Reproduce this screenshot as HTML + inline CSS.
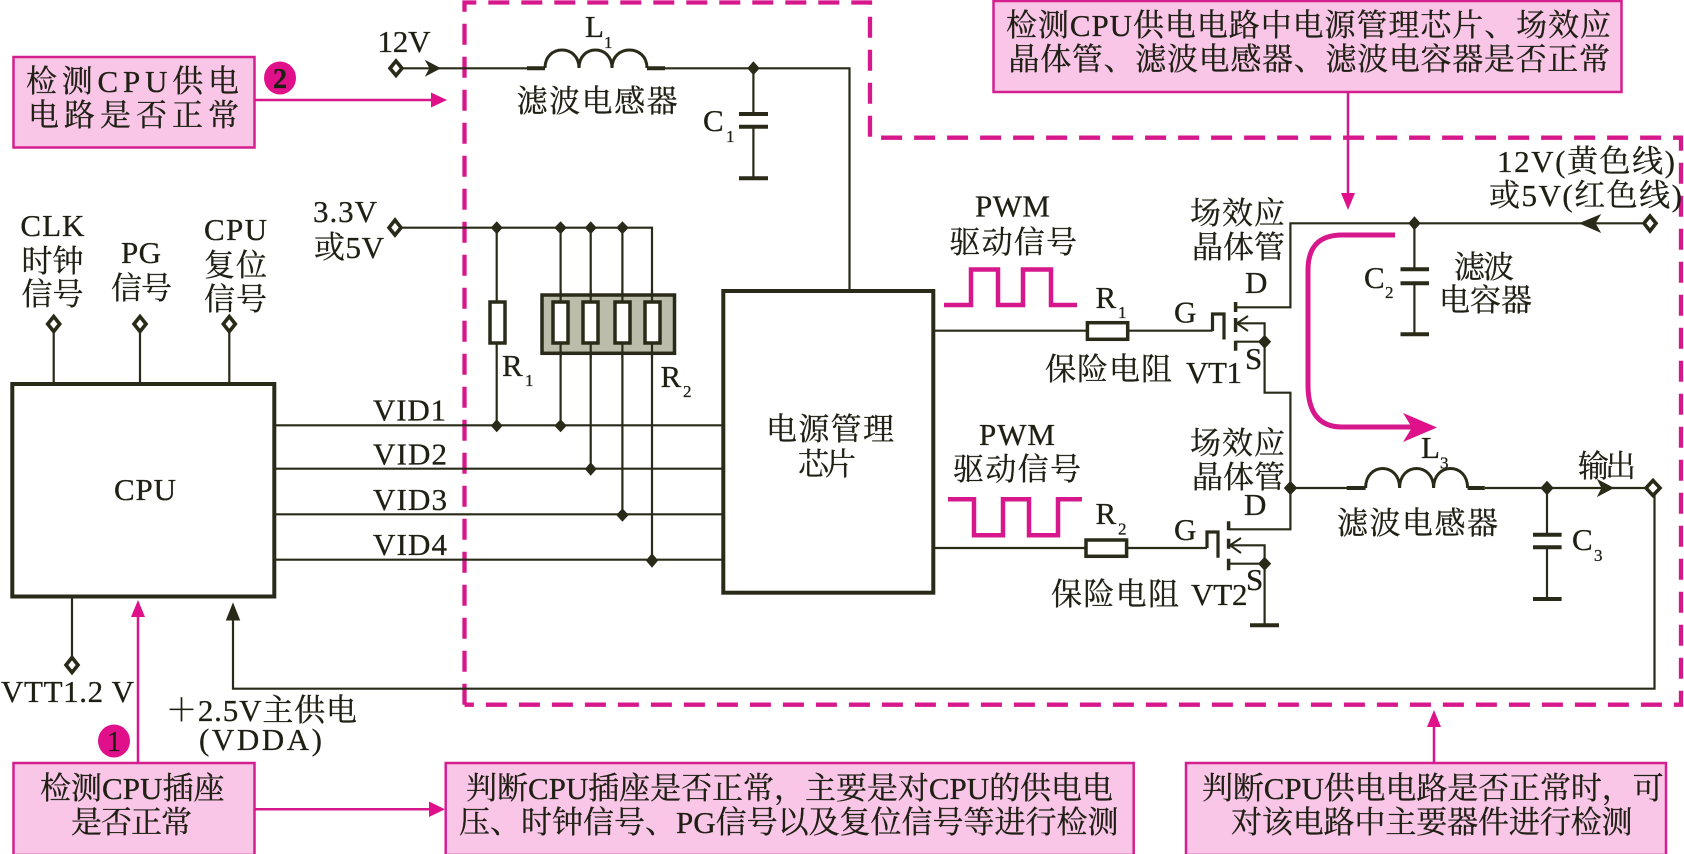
<!DOCTYPE html>
<html lang="zh">
<head>
<meta charset="utf-8">
<title>CPU供电电路检测</title>
<style>
html,body{margin:0;padding:0;background:#fff;width:1684px;height:854px;overflow:hidden}
svg{display:block}
text{font-family:"Liberation Serif","Noto Serif CJK SC",serif;font-size:31px;fill:#1f1f14;stroke:#1f1f14;stroke-width:.3px}
.sub{font-size:17px}
.w{fill:none;stroke:#2a2a18;stroke-width:2.2}
.t{fill:none;stroke:#2a2a18;stroke-width:4}
.b{fill:#f9c6e7;stroke:#d4208f;stroke-width:2.5}
.p{fill:none;stroke:#d6188c;stroke-width:2.5}
.wave{fill:none;stroke:#d6188c;stroke-width:4.5}
.ph{fill:#e0108a}
.k{fill:#2a2a18;stroke:#2a2a18;stroke-width:1}
.o{fill:#fff;stroke:#2a2a18;stroke-width:3.6}
.r{fill:#fff;stroke:#2a2a18;stroke-width:3.5}
</style>
</head>
<body>
<svg xmlns="http://www.w3.org/2000/svg" width="1684" height="854" viewBox="0 0 1684 854">
<rect width="1684" height="854" fill="#fff"/>

<!-- dashed region -->
<path d="M464.5 704.7V2.5H870V137.7H1681V704.7H464.5" fill="none" stroke="#d6188c" stroke-width="4.3" stroke-dasharray="21 12"/>

<!-- pink boxes -->
<rect class="b" x="13.5" y="57" width="241" height="90.5"/>
<rect class="b" x="993.5" y="1" width="628" height="91"/>
<rect class="b" x="13.5" y="763" width="241" height="92"/>
<rect class="b" x="445.7" y="763" width="688" height="92"/>
<rect class="b" x="1186" y="763" width="480" height="92"/>

<!-- pink arrows -->
<path class="p" d="M254 100H435M138 763V612M254 809.3H432M1348 92V198M1434 763V722"/>
<polygon class="ph" points="447,100 431,92.5 431,107.5"/>
<polygon class="ph" points="138,600 131,617 145,617"/>
<polygon class="ph" points="445,809.3 429,801.5 429,817"/>
<polygon class="ph" points="1348,210 1341,193 1355,193"/>
<polygon class="ph" points="1434,710 1427,727 1441,727"/>
<ellipse class="ph" cx="280" cy="78" rx="16" ry="16.5"/>
<ellipse class="ph" cx="114" cy="741" rx="16" ry="16.5"/>
<path d="M1395 235H1342Q1308 235 1308 270V385Q1308 427 1342 427H1415" fill="none" stroke="#d6188c" stroke-width="5"/>
<polygon class="ph" points="1403,413 1437,427.5 1403,442 1412,427.5"/>

<!-- CPU and manager -->
<rect class="t" x="12.3" y="384" width="262" height="212.5"/>
<rect class="t" x="723.3" y="291" width="210" height="301.7"/>
<path class="w" d="M53.7 324V384M140 324V384M229.3 324V384M72 596V665"/>
<path class="w" d="M274 425.3H723M274 468.7H723M274 514.3H723M274 559.7H723"/>

<!-- 3.3V bus -->
<path class="w" d="M395 227.7H652V559.7M496.7 227.7V425.3M560.6 227.7V425.3M590.7 227.7V468.7M622.4 227.7V514.3"/>
<rect x="542" y="295" width="132.5" height="58.3" fill="#bcbcab" stroke="#2a2a18" stroke-width="3.5"/>
<path class="w" d="M560.6 290V358M590.7 290V358M622.4 290V358M652 290V358"/>
<rect class="r" x="490" y="302" width="15" height="41"/>
<rect class="r" x="553" y="302" width="15" height="41"/>
<rect class="r" x="583" y="302" width="15" height="41"/>
<rect class="r" x="615" y="302" width="15" height="41"/>
<rect class="r" x="645" y="302" width="15" height="41"/>

<!-- 12V / L1 / C1 -->
<path class="w" d="M396 68.3H527M665 68.3H849.5V291M753.4 68.3V114M753.4 126.7V178"/>
<path class="t" d="M527 68.3H545M647 68.3H665M739 114H768M739 126.7H768M739 178.3H768"/>
<path d="M545 68C545 44 579 44 579 68C579 44 612 44 612 68C612 44 647 44 647 68" fill="none" stroke="#2a2a18" stroke-width="3"/>
<polygon class="k" points="440,68.3 426,61 430,68.3 426,75.5"/>

<!-- input wire right, C2 -->
<path class="w" d="M1650 223.3H1290.4V307.3H1236M1414.4 223.3V269.3M1414.4 283.3V334"/>
<path class="t" d="M1400.5 269.3H1429M1400.5 283.3H1429M1400.5 334.3H1429"/>
<polygon class="k" points="1580,223.3 1600,215 1595,223.3 1600,232"/>

<!-- VT1 -->
<path class="w" d="M933 330.7H1212.5M1236 323.3H1264.6V392.7H1290.4V529.3H1229M1236 341.7H1264.6"/>
<path d="M1212.5 331V314H1224V339.5" fill="none" stroke="#2a2a18" stroke-width="3.2"/>
<path d="M1235.6 302V312M1235.6 318V332M1235.6 340.7V350.7" fill="none" stroke="#2a2a18" stroke-width="3.5"/>
<path d="M1248 316L1237 323.3L1248 331" fill="none" stroke="#2a2a18" stroke-width="2"/>
<rect class="r" x="1087.4" y="322.7" width="40.3" height="16.6"/>

<!-- VT2 -->
<path class="w" d="M933 548H1207M1229 545.3H1264.6V625M1229 563.7H1264.6"/>
<path d="M1207 548V532H1218V557.7" fill="none" stroke="#2a2a18" stroke-width="3.2"/>
<path d="M1228.6 521.3V530.3M1228.6 538.7V548.7M1228.6 558.7V570.3" fill="none" stroke="#2a2a18" stroke-width="3.5"/>
<path d="M1241 538L1230 545.3L1241 553" fill="none" stroke="#2a2a18" stroke-width="2"/>
<path class="t" d="M1250 625.3H1279"/>
<rect class="r" x="1086" y="540" width="40.6" height="16.3"/>

<!-- output -->
<path class="w" d="M1290.4 488H1347M1485 488H1654.5V688.7H233V615M1547 488V534.7M1547 547.3V599"/>
<path class="t" d="M1346.8 488H1365.6M1467.6 488H1484.8M1533 534.7H1561.6M1533 547.3H1561.6M1533 599H1561.6"/>
<path d="M1365.6 488C1365.6 462 1399.6 462 1399.6 488C1399.6 462 1433.6 462 1433.6 488C1433.6 462 1467.6 462 1467.6 488" fill="none" stroke="#2a2a18" stroke-width="3"/>
<polygon class="k" points="1613,488 1598,480 1602,488 1598,496"/>
<polygon class="k" points="233,603.7 226.5,620 239.5,620"/>

<!-- PWM waves -->
<path class="wave" d="M944 305H971V269.5H998V305H1023V269.5H1051V305H1077"/>
<path class="wave" d="M948 499.3H974V535.3H1003V499.3H1029V535.3H1058V499.3H1082"/>

<!-- terminals -->
<polygon class="o" points="396,61 402,68.3 396,75.5 390,68.3"/>
<polygon class="o" points="395,220 401,227.7 395,235 389,227.7"/>
<polygon class="o" points="53.7,316.5 59.7,324 53.7,331.5 47.7,324"/>
<polygon class="o" points="140,316.5 146,324 140,331.5 134,324"/>
<polygon class="o" points="229.3,316.5 235.3,324 229.3,331.5 223.3,324"/>
<polygon class="o" points="72,657.5 78,665 72,672.5 66,665"/>
<polygon class="o" points="1650,216 1656,223.3 1650,231 1644,223.3"/>
<polygon class="o" points="1653,480.5 1660,488 1653,495.5 1646,488"/>

<!-- junctions -->
<g class="k">
<polygon points="753.4,62 759,68.3 753.4,74.5 748,68.3"/>
<polygon points="496.7,222 502,227.7 496.7,233.5 491.5,227.7"/>
<polygon points="560.6,222 566,227.7 560.6,233.5 555,227.7"/>
<polygon points="590.7,222 596,227.7 590.7,233.5 585.5,227.7"/>
<polygon points="622.4,222 628,227.7 622.4,233.5 617,227.7"/>
<polygon points="496.7,420 502,425.7 496.7,431.5 491.5,425.7"/>
<polygon points="560.6,420 566,425.7 560.6,431.5 555,425.7"/>
<polygon points="590.7,463 596,469 590.7,475 585.5,469"/>
<polygon points="622.4,509 628,515 622.4,521 617,515"/>
<polygon points="652,554 657.5,560.5 652,567 646.5,560.5"/>
<polygon points="1414.4,217 1420,223.3 1414.4,229.5 1409,223.3"/>
<polygon points="1264.6,335.5 1270.5,341.7 1264.6,348 1258.7,341.7"/>
<polygon points="1264.6,557.5 1270.5,563.7 1264.6,570 1258.7,563.7"/>
<polygon points="1290.4,481.5 1296.5,488 1290.4,494.5 1284.5,488"/>
<polygon points="1547,481.5 1553,488 1547,494.5 1541,488"/>
</g>

<!-- labels: badges -->
<text x="280" y="88" text-anchor="middle" style="font-weight:bold;font-size:28px">2</text>
<text x="114" y="751" text-anchor="middle" style="font-size:28px">1</text>

<!-- top left -->
<text x="26" y="92" textLength="213">检测CPU供电</text>
<text x="28" y="126" textLength="211">电路是否正常</text>
<text x="377.5" y="52" textLength="53">12V</text>
<text x="585" y="37">L</text><text class="sub" x="604" y="48">1</text>
<text x="516.6" y="112" textLength="161">滤波电感器</text>
<text x="703" y="131">C</text><text class="sub" x="726" y="142">1</text>
<text x="313" y="222" textLength="64">3.3V</text>
<text x="314" y="258" textLength="70">或5V</text>
<text x="20.4" y="236" textLength="64">CLK</text>
<text x="21.5" y="272" textLength="62">时钟</text>
<text x="21.5" y="305" textLength="62">信号</text>
<text x="121" y="263" textLength="40">PG</text>
<text x="111" y="299" textLength="61">信号</text>
<text x="204" y="240" textLength="63">CPU</text>
<text x="204" y="276" textLength="63">复位</text>
<text x="204" y="310" textLength="63">信号</text>
<text x="502" y="376">R</text><text class="sub" x="525" y="386">1</text>
<text x="660.5" y="387">R</text><text class="sub" x="683" y="397">2</text>
<text x="373" y="420.5" textLength="73">VID1</text>
<text x="373" y="464.5" textLength="74">VID2</text>
<text x="373" y="510" textLength="74">VID3</text>
<text x="373" y="555" textLength="74">VID4</text>
<text x="766" y="440" textLength="128">电源管理</text>
<text x="798" y="475" textLength="58">芯片</text>
<text x="114" y="500" textLength="62">CPU</text>

<!-- bottom left -->
<text x="1" y="702" textLength="133">VTT1.2 V</text>
<text x="166" y="721" textLength="191">＋2.5V主供电</text>
<text x="199" y="750" textLength="123">(VDDA)</text>
<text x="40" y="799" textLength="184.5">检测CPU插座</text>
<text x="71" y="833" textLength="121">是否正常</text>
<text x="466" y="799" textLength="647">判断CPU插座是否正常，主要是对CPU的供电电</text>
<text x="459" y="833" textLength="659.5">压、时钟信号、PG信号以及复位信号等进行检测</text>
<text x="1202" y="799" textLength="461.6">判断CPU供电电路是否正常时，可</text>
<text x="1231" y="833" textLength="401.5">对该电路中主要器件进行检测</text>

<!-- top right -->
<text x="1006" y="36" textLength="605">检测CPU供电电路中电源管理芯片、场效应</text>
<text x="1008.5" y="70" textLength="601.5">晶体管、滤波电感器、滤波电容器是否正常</text>
<text x="1497" y="172" textLength="178">12V(黄色线)</text>
<text x="1489" y="206" textLength="193">或5V(红色线)</text>
<text x="975" y="216.5" textLength="75">PWM</text>
<text x="949.4" y="253" textLength="127.6">驱动信号</text>
<text x="979" y="445" textLength="76">PWM</text>
<text x="953" y="480" textLength="128">驱动信号</text>
<text x="1190" y="224" textLength="95">场效应</text>
<text x="1192" y="258" textLength="93">晶体管</text>
<text x="1190" y="454" textLength="95">场效应</text>
<text x="1192" y="488" textLength="93">晶体管</text>
<text x="1454" y="278" textLength="60">滤波</text>
<text x="1439" y="311" textLength="93">电容器</text>
<text x="1364" y="288">C</text><text class="sub" x="1385" y="298">2</text>
<text x="1245" y="293">D</text>
<text x="1174" y="322.5">G</text>
<text x="1095.5" y="308">R</text><text class="sub" x="1118" y="318">1</text>
<text x="1045" y="380" textLength="127">保险电阻</text>
<text x="1186" y="383" textLength="56">VT1</text>
<text x="1245" y="369">S</text>
<text x="1244" y="515">D</text>
<text x="1174" y="540">G</text>
<text x="1095.5" y="524">R</text><text class="sub" x="1118" y="534.5">2</text>
<text x="1051" y="605" textLength="128">保险电阻</text>
<text x="1191" y="605" textLength="56.5">VT2</text>
<text x="1246" y="590">S</text>
<text x="1421" y="458">L</text><text class="sub" x="1440" y="468.5">3</text>
<text x="1337" y="534" textLength="161">滤波电感器</text>
<text x="1578" y="477" textLength="58">输出</text>
<text x="1572" y="550">C</text><text class="sub" x="1594" y="561">3</text>
</svg>
</body>
</html>
